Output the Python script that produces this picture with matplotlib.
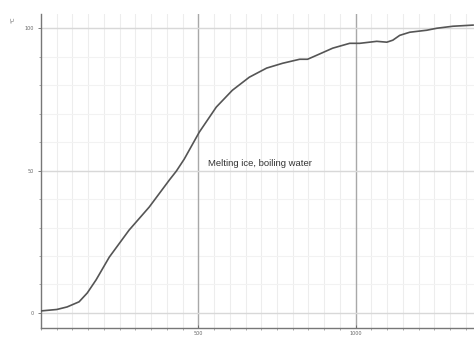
import numpy as np
import matplotlib.pyplot as plt
from matplotlib.ticker import MultipleLocator

# Temperature readings
time_s = [0, 50, 83, 121, 147, 175, 217, 280, 344, 408, 430, 455, 503, 557,
          608, 662, 717, 768, 822, 847, 876, 927, 981, 1013, 1067, 1099, 1118,
          1140, 1172, 1226, 1258, 1309, 1373]
temp_c = [0.7, 1.2, 2.1, 3.9, 7.0, 11.6, 19.6, 29.1, 37.2, 46.7, 49.8, 54.0,
          63.5, 72.3, 78.2, 82.8, 86.0, 87.7, 89.1, 89.1, 90.5, 93.0, 94.7,
          94.7, 95.4, 95.1, 95.8, 97.5, 98.6, 99.3, 100.0, 100.7, 101.1]
y_ticks = [0, 50, 100]
x_ticks = [500, 1000]

fig = plt.figure(figsize=(4.74, 3.38), dpi=100)
ax = fig.add_axes([41 / 474, 10 / 338, 1 - 41 / 474, 314 / 338])

# grid: faint minor lines, darker lines at major x ticks
for xv in np.arange(50, 1400, 50):
    ax.axvline(xv, color="#ededed", lw=0.8, zorder=0)
for xv in x_ticks:
    ax.axvline(xv, color="#a8a8a8", lw=1.0, zorder=1)
for yv in np.arange(10, 110, 10):
    ax.axhline(yv, color="#f2f2f2", lw=0.8, zorder=0)
for yv in y_ticks:
    ax.axhline(yv, color="#d8d8d8", lw=1.0, zorder=1)

ax.plot(time_s, temp_c, color="#555555", lw=1.2, zorder=3)

ax.text(697, 52.6, "Melting ice, boiling water", fontsize=6.8,
        family="Liberation Sans", color="#333333", ha="center", va="center")

ax.set_xlim(0, 1376)
ax.set_ylim(-5.3, 105)
ax.set_xticks(x_ticks)
ax.set_yticks(y_ticks)
ax.xaxis.set_minor_locator(MultipleLocator(50))
ax.yaxis.set_minor_locator(MultipleLocator(10))
ax.tick_params(axis="both", labelsize=3.5, colors="#666666", length=2, width=0.6)
ax.tick_params(axis="both", which="minor", length=1.5, width=0.5, color="#888888")
ax.tick_params(axis="x", direction="in", pad=2)

for side in ["top", "right"]:
    ax.spines[side].set_visible(False)
for side in ["left", "bottom"]:
    ax.spines[side].set_color("#777777")
    ax.spines[side].set_linewidth(1.0)

fig.text(13 / 474, 1 - 20 / 338, "°C", rotation=90, fontsize=4,
         color="#666666", ha="center", va="center")

fig.savefig("out.png", dpi=100)
